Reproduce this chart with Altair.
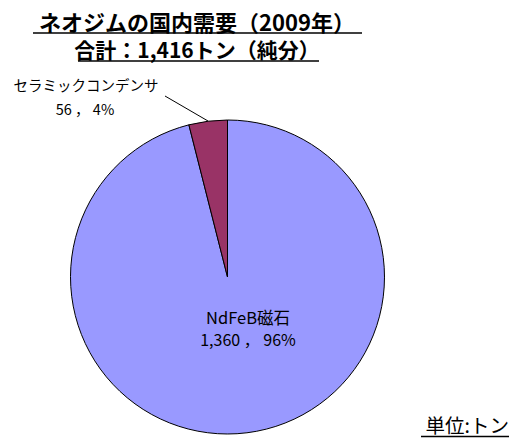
import altair as alt
import pandas as pd

categories = ["NdFeB磁石", "セラミックコンデンサ"]
values = [1360, 56]
percents = ["96%", "4%"]
colors = ["#9999FF", "#993366"]
order = [0, 1]

df = pd.DataFrame({"cat": categories, "val": values, "ord": order})

CX, CY, R = 219.5, 269, 157
FONT = "Noto Sans CJK JP"

pie = alt.Chart(df).mark_arc(stroke="black", strokeWidth=1, radius=R).encode(
    theta=alt.Theta("val:Q", stack=True),
    order=alt.Order("ord:Q"),
    color=alt.Color("cat:N", scale=alt.Scale(domain=categories, range=colors), legend=None),
    x=alt.value(CX), y=alt.value(CY),
)

def txt(s, x, y, size=12, weight="normal", align="center"):
    return alt.Chart(pd.DataFrame({"t": [s]})).mark_text(
        font=FONT, fontSize=size, fontWeight=weight, align=align, baseline="alphabetic", color="black"
    ).encode(text="t:N", x=alt.value(x), y=alt.value(y))

def rule(x1, y1, x2, y2, w=1.2):
    return alt.Chart(pd.DataFrame({"a": [0]})).mark_rule(color="black", strokeWidth=w).encode(
        x=alt.value(x1), x2=alt.value(x2), y=alt.value(y1), y2=alt.value(y2))

layers = [
    pie,
    txt("ネオジムの国内需要（2009年）", 189, 22.5, 22, "bold"),
    rule(25, 25, 354, 25, 1.5),
    txt("合計：1,416トン（純分）", 189, 49.5, 21, "bold"),
    rule(70, 53, 311, 53, 1.5),
    txt(categories[1], 78, 83, 14.5),
    txt(f"{values[1]} ， {percents[1]}", 77, 107, 14.5),
    rule(157, 88, 200, 113, 1),
    txt(categories[0], 240, 316, 16.5),
    txt(f"{values[0]:,} ， {percents[0]}", 240, 338, 16),
    txt("単位:トン", 501, 424.5, 19.5, "normal", "right"),
    rule(413, 428.5, 501, 428.5, 1.5),
]

chart = alt.layer(*layers).properties(
    width=502, height=430, autosize=alt.AutoSizeParams(type="none"), padding=0
).configure_view(stroke=None)

chart.save("out.html", embed_options={"renderer": "svg", "actions": False})
